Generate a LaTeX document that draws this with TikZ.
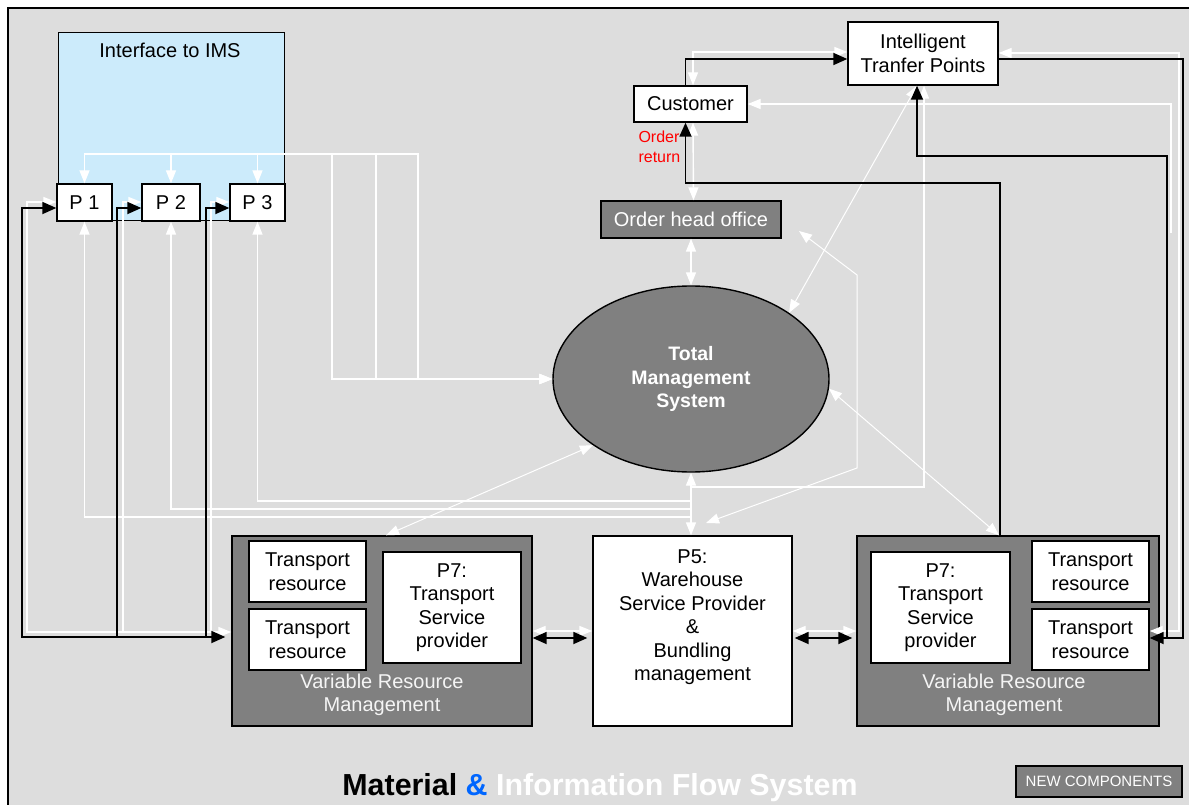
\documentclass[tikz,border=0pt]{standalone}
\usepackage{fontspec}
\setmainfont{Liberation Sans}
\usetikzlibrary{arrows.meta,shapes.geometric,calc}
\definecolor{panel}{RGB}{221,221,221}
\definecolor{darkbox}{RGB}{128,128,128}
\definecolor{imsblue}{RGB}{204,235,251}
\definecolor{ampblue}{RGB}{0,102,255}

\begin{document}
\begin{tikzpicture}[x=1pt,y=-1pt,
  txt/.style={font=\fontsize{20}{23.5}\selectfont, align=center},
  whitebox/.style={draw=black, line width=1.4pt, fill=white, inner sep=0pt, txt},
  greybox/.style={draw=black, line width=1.4pt, fill=darkbox, inner sep=0pt, txt, text=white},
  blk/.style={draw=black, line width=1.8pt, >={Triangle[length=14pt,width=12pt]}},
  wht/.style={draw=white, line width=1.4pt, >={Triangle[length=13pt,width=10pt]}},
  whtthin/.style={wht, line width=1pt},
]
\useasboundingbox (0,0) rectangle (1189,805);
% page and panel
\fill[white] (0,0) rectangle (1189,805);
\fill[panel] (8,8) rectangle (1189,805);
\draw[black, line width=1.6pt] (8,805) -- (8,8) -- (1189,8);

% helper levels for the orthogonal connectors
\coordinate (w202) at (0,202);
\coordinate (b208) at (0,208);
\coordinate (w632) at (0,632);
\coordinate (b637) at (0,637);
\coordinate (w52) at (0,52);
\coordinate (b59) at (0,59);
\coordinate (w53) at (0,53);
\coordinate (w104) at (0,104);
\coordinate (w631) at (0,631);
\coordinate (b638) at (0,638);

% interface block with the three processes
\node[draw=black, line width=1.4pt, fill=imsblue, minimum width=226pt, minimum height=188pt,
      anchor=north west, inner sep=0pt] (IMS) at (58,32) {};
\node[txt] (IMSlabel) at (170,50) {Interface to IMS};
\node[whitebox, minimum width=55, minimum height=37] (P1) at (84.5,202.5) {P 1};
\node[whitebox, minimum width=58, minimum height=37] (P2) at (171,202.5) {P 2};
\node[whitebox, minimum width=55, minimum height=37] (P3) at (257.5,202.5) {P 3};

% upper right nodes
\node[whitebox, minimum width=113, minimum height=36] (Customer) at (690.5,104) {Customer};
\node[whitebox, minimum width=150, minimum height=63] (ITP) at (923,53.5) {Intelligent\\Tranfer Points};
\node[greybox, minimum width=180, minimum height=37] (OHO) at (691,219.5) {Order head office};
\node[anchor=west, text=red, font=\fontsize{16}{20}\selectfont, align=left] (ordret) at (635,147) {Order\\return};

% central management system
\node[draw=black, line width=1.4pt, fill=darkbox, ellipse, minimum width=276, minimum height=186,
      inner sep=0pt, txt, text=white, font=\bfseries\fontsize{19.5}{23.5}\selectfont] (TMS) at (691,379)
      {Total\\Management\\System};

% left resource management
\node[greybox, minimum width=300, minimum height=190] (VRML) at (382,631) {};
\node[whitebox, minimum width=117, minimum height=61] (TRL1) at (307.5,571.5) {Transport\\resource};
\node[whitebox, minimum width=117, minimum height=61] (TRL2) at (307.5,639.5) {Transport\\resource};
\node[whitebox, minimum width=138, minimum height=111] (P7L) at (452,607.5) {P7:\\Transport\\Service\\provider};
\node[txt, text=white!92!gray] (VRMLlabel) at (382,695) {Variable Resource\\Management};

% warehouse
\node[whitebox, minimum width=199, minimum height=190] (P5) at (692.5,631) {};
\node[txt] (P5label) at (692.5,617) {P5:\\Warehouse\\Service Provider\\\&\\Bundling\\management};

% right resource management
\node[greybox, minimum width=302, minimum height=190] (VRMR) at (1008,631) {};
\node[whitebox, minimum width=139, minimum height=111] (P7R) at (940.5,607.5) {P7:\\Transport\\Service\\provider};
\node[whitebox, minimum width=117, minimum height=61] (TRR1) at (1090.5,571.5) {Transport\\resource};
\node[whitebox, minimum width=117, minimum height=61] (TRR2) at (1090.5,639.5) {Transport\\resource};
\node[txt, text=white!92!gray] (VRMRlabel) at (1004,695) {Variable Resource\\Management};

% title and legend
\node[anchor=base, font=\bfseries\fontsize{30.4}{34}\selectfont] (title) at (600,795)
  {Material \textcolor{ampblue}{\&} \textcolor{white}{Information Flow System}};
\node[greybox, minimum width=166, minimum height=31, font=\fontsize{15}{16}\selectfont] (newc) at (1099,781.5) {NEW COMPONENTS};

% free ends of the order head office link
\coordinate (ohoTip) at (799,231);
\coordinate (p5Tip) at (706,523);

% ---- information flow (white) ----
\draw[wht,<->] (P1.west |- w202) -- (27,202) -- (27,632) -- (VRML.west |- w632);
\draw[wht,<-] (P2.west |- w202) -- (123,202) -- (123,632);
\draw[wht,<-] (P3.west |- w202) -- (211,202) -- (211,632);

\draw[wht,<->] (P1.north) |- (332,154) -- (332,379) -- (TMS.west);
\draw[wht,<->] (P2.north) |- (376,154) -- (376,379) -- (TMS.west);
\draw[wht,<->] (P3.north) |- (418,154) -- (418,379) -- (TMS.west);

\draw[wht,->] (692,517) -| (P1.south);
\draw[wht,->] (692,509) -| (P2.south);
\draw[wht,->] (692,501) -| (P3.south);

\draw[wht,<->] (TMS.south) -- (TMS.south |- P5.north);
\draw[wht,<->] (OHO.south) -- (TMS.north);
\draw[wht,<->] ([xshift=2.5pt]Customer.south) -- ([xshift=2.5pt]OHO.north);
\draw[wht,<->] (ITP.west |- w52) -| ([xshift=2.5pt]Customer.north);
\draw[wht,<->] (ITP.east |- w53) -- (1179,53) -- (1179,631) -- (TRR2.east |- w631);
\draw[wht,->] (1171,233) -- (1171,104) -- (Customer.east |- w104);
\draw[wht,->] (692,487) -| ([xshift=1pt]ITP.south);

\draw[whtthin,<->] ([xshift=-6pt]ITP.south) -- (TMS.north east);
\draw[whtthin,<->] (ohoTip) -- (857,275) -- (857,468) -- (p5Tip);
\draw[whtthin,<->] (TMS.-4) -- ([xshift=-9pt]VRMR.north);
\draw[whtthin,<->] ([xshift=4pt]VRML.north) -- (TMS.south west);

\draw[wht,<->] (VRML.east |- w631) -- (P5.west |- w631);
\draw[wht,<->] (P5.east |- w631) -- (VRMR.west |- w631);

% ---- material flow (black) ----
\draw[blk,<->,shorten >=6pt] (P1.west |- b208) -- (22,208) -- (22,637) -- (VRML.west |- b637);
\draw[blk,<-] (P2.west |- b208) -- (117,208) -- (117,637);
\draw[blk,<-] (P3.west |- b208) -- (206,208) -- (206,637);

\draw[blk,->] ([xshift=-5pt]Customer.north) |- (ITP.west |- b59);
\draw[blk,->] (ITP.east |- b59) -- (1183,59) -- (1183,638) -- (TRR2.east |- b638);
\draw[blk,->] (1167,638) -- (1167,156) -- (917,156) -- ([xshift=-6pt]ITP.south);
\draw[blk,->] ([xshift=-8pt]VRMR.north) -- (1000,183) -- (685.5,183) -- ([xshift=-5pt]Customer.south);

\draw[blk,<->,shorten >=5pt] (VRML.east |- b638) -- (P5.west |- b638);
\draw[blk,<->,shorten <=2pt,shorten >=4pt] (P5.east |- b638) -- (VRMR.west |- b638);
\end{tikzpicture}
\end{document}
